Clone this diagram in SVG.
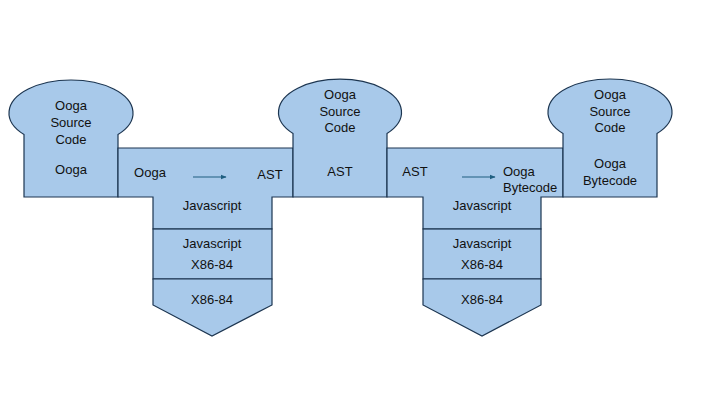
<svg xmlns="http://www.w3.org/2000/svg" width="720" height="405" viewBox="0 0 720 405">
<defs>
<style>
.s{fill:#a8c9ea;stroke:#1c3550;stroke-width:1.2;stroke-linejoin:miter}
.t{font-family:"Liberation Sans",Arial,sans-serif;font-size:13px;fill:#111;text-anchor:middle;dominant-baseline:central}
.l{text-anchor:start}
.a{stroke:#1f5f80;stroke-width:1.2;fill:none}
</style>
<marker id="ah" viewBox="0 0 10 10" refX="9" refY="5" markerWidth="5" markerHeight="5" orient="auto"><path d="M0,1 L10,5 L0,9 Z" fill="#1f5f80"/></marker>
</defs>
<rect width="720" height="405" fill="#fff"/>
<g id="node-prog1">
<path class="s" d="M24,197 V134.5 A62,33 0 1 1 118,134.5 V197 Z"/>
<text class="t" x="71" y="105">Ooga</text>
<text class="t" x="71" y="122">Source</text>
<text class="t" x="71" y="139">Code</text>
<text class="t" x="71" y="169">Ooga</text>
</g>
<g id="node-compiler1">
<path class="s" d="M118,148 H293 V197 H272 V229 H153 V197 H118 Z"/>
<text class="t" x="150" y="172">Ooga</text>
<text class="t" x="270" y="174">AST</text>
<text class="t" x="212" y="205">Javascript</text>
</g>
<g id="node-interp1">
<rect class="s" x="153" y="229" width="119" height="50"/>
<text class="t" x="212" y="243">Javascript</text>
<text class="t" x="212" y="264">X86-84</text>
</g>
<g id="node-machine1">
<path class="s" d="M153,279 H272 V305 L212,336 L153,305 Z"/>
<text class="t" x="212" y="299">X86-84</text>
</g>
<g id="node-prog2">
<path class="s" d="M293,197 V133.5 A61.5,33 0 1 1 387,133.5 V197 Z"/>
<text class="t" x="340" y="94">Ooga</text>
<text class="t" x="340" y="111">Source</text>
<text class="t" x="340" y="127">Code</text>
<text class="t" x="340" y="171">AST</text>
</g>
<g id="node-compiler2">
<path class="s" d="M387,148 H563 V197 H541 V229 H423 V197 H387 Z"/>
<text class="t" x="415" y="171">AST</text>
<text class="t l" x="503" y="171">Ooga</text>
<text class="t l" x="503" y="187">Bytecode</text>
<text class="t" x="482" y="205">Javascript</text>
</g>
<g id="node-interp2">
<rect class="s" x="423" y="229" width="118" height="50"/>
<text class="t" x="482" y="243">Javascript</text>
<text class="t" x="482" y="264">X86-84</text>
</g>
<g id="node-machine2">
<path class="s" d="M423,279 H541 V305 L482,336 L423,305 Z"/>
<text class="t" x="482" y="299">X86-84</text>
</g>
<g id="node-prog3">
<path class="s" d="M563,197 V133.5 A62,33 0 1 1 657,133.5 V197 Z"/>
<text class="t" x="610" y="94">Ooga</text>
<text class="t" x="610" y="111">Source</text>
<text class="t" x="610" y="127">Code</text>
<text class="t" x="610" y="163">Ooga</text>
<text class="t" x="610" y="180">Bytecode</text>
</g>
<g id="connectors">
<line class="a" x1="193" y1="177" x2="226" y2="177" marker-end="url(#ah)"/>
<line class="a" x1="462" y1="177" x2="495" y2="177" marker-end="url(#ah)"/>
</g>
</svg>
